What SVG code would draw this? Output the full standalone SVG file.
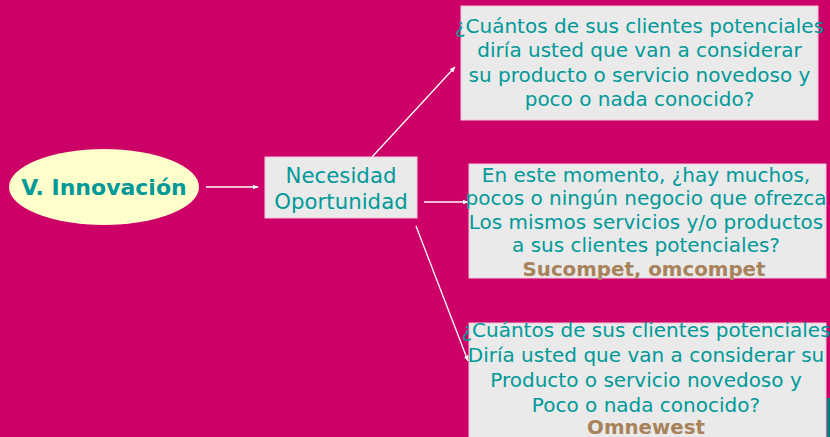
<svg xmlns="http://www.w3.org/2000/svg" width="830" height="437" viewBox="0 0 830 437">
<defs>
<marker id="ah" viewBox="0 0 10 10" refX="9" refY="5" markerWidth="6" markerHeight="6" orient="auto" markerUnits="userSpaceOnUse">
<path d="M0,1 L10,5 L0,9 z" fill="#ffffff"/>
</marker>
<style>
.t{font-family:"DejaVu Sans","Verdana",sans-serif;font-size:20px;fill:#009999;text-anchor:middle}
.b{font-family:"DejaVu Sans","Verdana",sans-serif;font-size:19.8px;font-weight:bold;fill:#A8825A;text-anchor:middle}
.box{fill:#EAEAEA;stroke:#F2C8DC;stroke-width:1}
.c{stroke:#ffffff;stroke-width:1.3;fill:none;marker-end:url(#ah)}
</style>
</defs>
<rect x="0" y="0" width="830" height="437" fill="#CC0066"/>
<rect x="827" y="398" width="3" height="39" fill="#008080"/>
<g id="connectors">
<line class="c" x1="206" y1="187" x2="258" y2="187"/>
<line class="c" x1="424" y1="202" x2="468" y2="202"/>
<line class="c" x1="372" y1="157" x2="455" y2="67"/>
<line class="c" x1="416" y1="226" x2="468" y2="361"/>
</g>
<g id="innovacion">
<ellipse cx="104" cy="187" rx="95" ry="38" fill="#FFFFCC"/>
<text x="104" y="195" style="font-family:'DejaVu Sans',Verdana,sans-serif;font-size:22px;font-weight:bold;fill:#009999;text-anchor:middle">V. Innovación</text>
</g>
<g id="necesidad">
<rect class="box" x="265" y="157" width="152" height="61"/>
<text class="t" x="341" y="183" style="font-size:21.3px">Necesidad</text>
<text class="t" x="341" y="209" style="font-size:21.3px">Oportunidad</text>
</g>
<g id="q1">
<rect class="box" x="461" y="6" width="357" height="114"/>
<text class="t" x="639.5" y="33">¿Cuántos de sus clientes potenciales</text>
<text class="t" x="639.5" y="57">diría usted que van a considerar</text>
<text class="t" x="639.5" y="82">su producto o servicio novedoso y</text>
<text class="t" x="639.5" y="106">poco o nada conocido?</text>
</g>
<g id="q2">
<rect class="box" x="469" y="164" width="357" height="114"/>
<text class="t" x="646" y="182">En este momento, ¿hay muchos,</text>
<text class="t" x="646" y="205">pocos o ningún negocio que ofrezca</text>
<text class="t" x="646" y="229">Los mismos servicios y/o productos</text>
<text class="t" x="646" y="252">a sus clientes potenciales?</text>
<text class="b" x="644" y="276">Sucompet, omcompet</text>
</g>
<g id="q3">
<rect class="box" x="469" y="323" width="357" height="120"/>
<text class="t" x="646" y="337">¿Cuántos de sus clientes potenciales</text>
<text class="t" x="646" y="362">Diría usted que van a considerar su</text>
<text class="t" x="646" y="387">Producto o servicio novedoso y</text>
<text class="t" x="646" y="412">Poco o nada conocido?</text>
<text class="b" x="646" y="434">Omnewest</text>
</g>
</svg>
